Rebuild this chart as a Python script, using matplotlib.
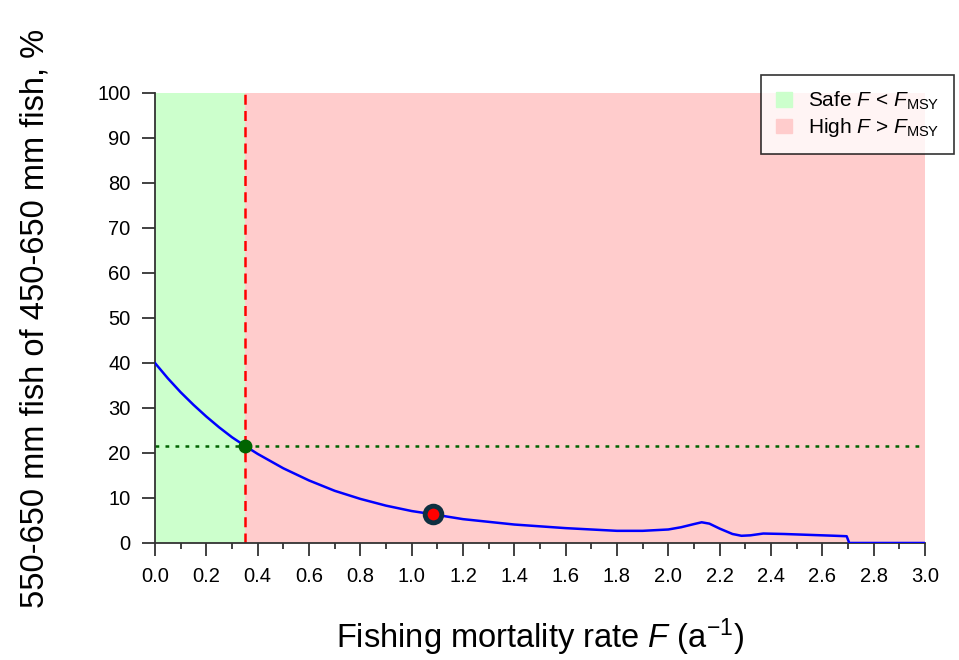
import numpy as np
import matplotlib
matplotlib.use("Agg")
import matplotlib.pyplot as plt
from matplotlib.patches import Patch
from matplotlib.ticker import MultipleLocator

plt.rcParams['font.family'] = ['Liberation Sans', 'DejaVu Sans']
plt.rcParams['mathtext.fontset'] = 'custom'
plt.rcParams['mathtext.rm'] = 'Liberation Sans'
plt.rcParams['mathtext.it'] = 'Liberation Sans:italic'

# === data ===
f_rate = [0.0, 0.025, 0.05, 0.10, 0.15, 0.20, 0.25, 0.30, 0.35, 0.40, 0.50, 0.60, 0.70,
          0.80, 0.90, 1.00, 1.08, 1.20, 1.30, 1.40, 1.50, 1.60, 1.70, 1.80, 1.90,
          2.00, 2.05, 2.10, 2.13, 2.16, 2.20, 2.25, 2.285, 2.32, 2.37, 2.45, 2.55,
          2.65, 2.695, 2.705, 2.80, 3.00]
share_pct = [40.0, 38.3, 36.6, 33.5, 30.7, 28.1, 25.7, 23.5, 21.6, 19.8, 16.6, 13.9, 11.6,
             9.8, 8.3, 7.1, 6.4, 5.3, 4.7, 4.1, 3.7, 3.3, 3.0, 2.7, 2.7,
             3.0, 3.5, 4.2, 4.6, 4.3, 3.2, 2.0, 1.6, 1.7, 2.1, 2.0, 1.8,
             1.6, 1.5, 0.0, 0.0, 0.0]
f_msy = 0.351
share_at_fmsy = 21.6
f_current = 1.082
share_current = 6.4
f_max = 3.0

fig = plt.figure(figsize=(9.59, 6.6), dpi=100)
ax = fig.add_axes([0.1616, 0.1773, 0.9645 - 0.1616, 0.8591 - 0.1773])

# zones
ax.axvspan(0, f_msy, color='#ccffcc', lw=0, zorder=0)
ax.axvspan(f_msy, f_max, color='#ffcccc', lw=0, zorder=0)

ax.axhline(share_at_fmsy, color='#006400', ls=(0, (1.5, 2.5)), lw=1.8, zorder=2)
ax.plot([f_msy, f_msy], [0, 100], color='red', ls=(0, (4, 2.5)), lw=1.8, zorder=2)
ax.plot(f_rate, share_pct, color='blue', lw=1.8, zorder=3)
ax.plot(f_msy, share_at_fmsy, 'o', ms=9, color='#006400', zorder=4)
ax.plot(f_current, share_current, 'o', ms=12, mfc='red', mec='#0d2f40', mew=3.5, zorder=4)

ax.set_xlim(0, f_max)
ax.set_ylim(0, 100)
ax.xaxis.set_major_locator(MultipleLocator(0.2))
ax.xaxis.set_minor_locator(MultipleLocator(0.1))
ax.yaxis.set_major_locator(MultipleLocator(10))
ax.xaxis.set_major_formatter(lambda v, p: f'{v:.1f}')

for s in ['top', 'right']:
    ax.spines[s].set_visible(False)
for s in ['left', 'bottom']:
    ax.spines[s].set_color('#333333')
    ax.spines[s].set_linewidth(1.3)
ax.tick_params(axis='both', which='major', direction='out', length=9.5, width=1.3,
               color='#333333', labelsize=14.5, pad=8)
ax.tick_params(axis='x', which='minor', direction='out', length=4, width=1.3, color='#333333')

ax.set_xlabel(r'Fishing mortality rate $F$ (a$^{-1}$)', fontsize=23.5, labelpad=22)
ax.set_ylabel('550-650 mm fish of 450-650 mm fish, %', fontsize=23.5, labelpad=34)

handles = [Patch(color='#ccffcc'), Patch(color='#ffcccc')]
labels = [r'Safe $F$ < $F_{\mathrm{MSY}}$', r'High $F$ > $F_{\mathrm{MSY}}$']
leg = fig.legend(handles, labels, loc='upper right', bbox_to_anchor=(0.995, 0.886),
                 fontsize=15, frameon=True, fancybox=False, edgecolor='black',
                 handlelength=0.75, handleheight=0.7, borderpad=0.7, labelspacing=0.2,
                 borderaxespad=0)
leg.get_frame().set_linewidth(1.2)

fig.savefig('out.png', dpi=100)
